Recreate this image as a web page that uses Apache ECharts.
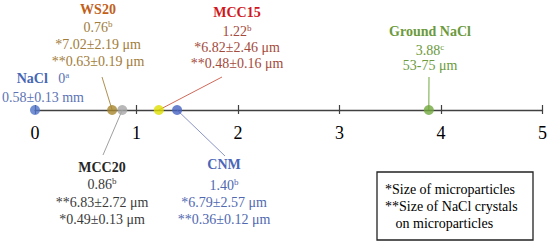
<!DOCTYPE html>
<html><head><meta charset="utf-8">
<script src="https://cdn.jsdelivr.net/npm/echarts@6/dist/echarts.min.js"></script>
<style>html,body{margin:0;padding:0;background:#fff}#c{width:550px;height:246px}</style>
</head><body><div id="c"></div>
<script>
// ---- data ----
const samples = ['NaCl', 'WS20', 'MCC20', 'MCC15', 'CNM', 'Ground NaCl'];
const values = [0, 0.76, 0.86, 1.22, 1.40, 3.88];
const valueLabels = ['0', '0.76', '0.86', '1.22', '1.40', '3.88'];
const sigLetters = ['a', 'b', 'b', 'b', 'b', 'c'];
const sizeLine1 = ['0.58±0.13 mm', '*7.02±2.19 μm', '**6.83±2.72 μm', '*6.82±2.46 μm', '*6.79±2.57 μm', '53-75 μm'];
const sizeLine2 = ['', '**0.63±0.19 μm', '*0.49±0.13 μm', '**0.48±0.16 μm', '**0.36±0.12 μm', ''];
const tickValues = [0, 1, 2, 3, 4, 5];
const noteLines = ['*Size of microparticles', '**Size of NaCl crystals', '   on microparticles'];

// ---- styles / layout ----
const FF = '"Liberation Serif", "Times New Roman", serif';
const dotColors = ['#4f74c8', '#a8862e', '#a6a6a6', '#dede00', '#4561c2', '#72a83e'];
const titleColors = ['#4667b4', '#c2601a', '#262626', '#d0161e', '#4a66b8', '#6b9a3c'];
const textColors = ['#5b73b5', '#a27c3a', '#3a3a3a', '#a44a3a', '#5068b0', '#6b9a3c'];
const leaderColors = ['#4667b4', '#b09050', '#a0a0a0', '#d06a5a', '#8a96c6', '#72a83e'];
// cx, y of [title, value, line1, line2], leader start
const layout = [
  {cx: 43, ys: [78, 78, 97, 0], lead: null},
  {cx: 98, ys: [9, 27, 44, 61], lead: [102, 77]},
  {cx: 102, ys: [167, 184, 202, 219], lead: [103, 155]},
  {cx: 237, ys: [12, 31, 47, 63], lead: [222, 77]},
  {cx: 224, ys: [164, 185, 202, 219], lead: [225, 156]},
  {cx: 430, ys: [31, 50, 65, 0], lead: [429, 77]}
];

const chart = echarts.init(document.getElementById('c'), null, {renderer: 'svg'});
const option = {
  animation: false,
  grid: {left: 35, right: 6, top: 10, bottom: 136},
  xAxis: [
    {type: 'value', min: 0, max: 5, interval: 1, position: 'bottom',
     axisLine: {onZero: false, lineStyle: {color: '#404040', width: 1.3}},
     axisTick: {show: true, length: 4, lineStyle: {color: '#404040', width: 1.2}},
     axisLabel: {margin: 14, fontSize: 18, fontFamily: FF, color: '#000',
       formatter: v => tickValues.includes(v) ? String(v) : ''},
     splitLine: {show: false}},
    {type: 'value', min: 0, max: 5, interval: 1, position: 'bottom',
     axisLine: {show: false},
     axisTick: {show: true, inside: true, length: 5, lineStyle: {color: '#404040', width: 1.2}},
     axisLabel: {show: false}, splitLine: {show: false}}
  ],
  yAxis: {type: 'value', min: 0, max: 1, show: false},
  series: [{
    type: 'scatter', xAxisIndex: 0, clip: false, symbolSize: 10, z: 5,
    data: values.map((v, i) => ({value: [v, 0], itemStyle: {color: dotColors[i]}}))
  }]
};
chart.setOption(option);

const g = [];
function txt(x, y, text, color, opts) {
  g.push(Object.assign({type: 'text', x: x, y: y, z: 10,
    style: Object.assign({text: text, fill: color, font: '14px ' + FF,
      align: 'center', verticalAlign: 'middle', textAlign: 'center', textVerticalAlign: 'middle'}, opts || {})}));
}
function supRich(color) {
  return {
    t: {fontSize: 14, fontWeight: 'bold', fontFamily: FF, fill: null, lineHeight: 16},
    v: {fontSize: 14, fontFamily: FF, fill: color, lineHeight: 16},
    s: {fontSize: 9, fontFamily: FF, fill: color, lineHeight: 10, verticalAlign: 'top'}
  };
}
samples.forEach((name, i) => {
  const L = layout[i];
  const p = chart.convertToPixel({xAxisIndex: 0, yAxisIndex: 0}, [values[i], 0]);
  if (L.lead) {
    g.push({type: 'line', z: 4, shape: {x1: L.lead[0], y1: L.lead[1], x2: p[0], y2: p[1]},
      style: {stroke: leaderColors[i], lineWidth: 1}});
  }
  if (i === 0) {
    const r = supRich(textColors[i]);
    r.t.fill = titleColors[i];
    txt(L.cx, L.ys[0], '{t|' + name + '}   {v|' + valueLabels[i] + '}{s|' + sigLetters[i] + '}', textColors[i], {rich: r});
  } else {
    txt(L.cx, L.ys[0], name, titleColors[i], {font: 'bold 14px ' + FF});
    txt(L.cx, L.ys[1], '{v|' + valueLabels[i] + '}{s|' + sigLetters[i] + '}', textColors[i], {rich: supRich(textColors[i])});
  }
  if (sizeLine1[i]) txt(L.cx, L.ys[2], sizeLine1[i], textColors[i]);
  if (sizeLine2[i]) txt(L.cx, L.ys[3], sizeLine2[i], textColors[i]);
});
// note box
g.push({type: 'rect', z: 3, shape: {x: 377, y: 172, width: 156, height: 68},
  style: {fill: '#fff', stroke: '#222', lineWidth: 1.3}});
const noteY = [189, 206, 223];
noteLines.forEach((t, k) => {
  txt(385, noteY[k], t, '#000', {align: 'left', textAlign: 'left'});
});
chart.setOption({graphic: {elements: g}});
</script></body></html>
